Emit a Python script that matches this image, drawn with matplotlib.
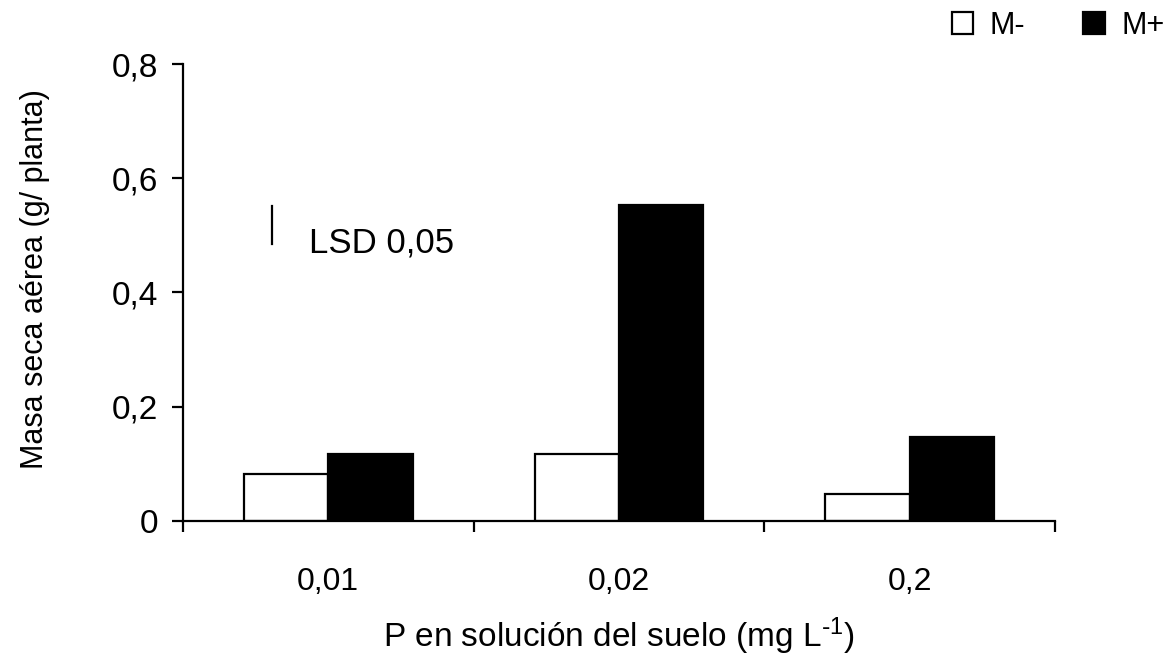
import matplotlib
matplotlib.use('Agg')
import matplotlib.pyplot as plt
import numpy as np

plt.rcParams['font.family'] = ['Liberation Sans', 'DejaVu Sans']
plt.rcParams['mathtext.default'] = 'regular'

#%% Data
categorias = ['0,01', '0,02', '0,2']
m_menos = [0.082, 0.117, 0.046]
m_mas = [0.117, 0.554, 0.147]
y_ticks = [0, 0.2, 0.4, 0.6, 0.8]
y_labels = ['0', '0,2', '0,4', '0,6', '0,8']
lsd = 0.067

#%% Figure
fig = plt.figure(figsize=[11.69, 6.66], dpi=100)
ax = fig.add_axes([0.1565, 0.2182, 0.746, 0.6853])

x = np.arange(len(categorias))
w = 0.29
ax.bar(x - w/2, m_menos, w, facecolor='white', edgecolor='black', linewidth=1.6, label='M-')
ax.bar(x + w/2, m_mas, w, facecolor='black', edgecolor='black', linewidth=1.6, label='M+')

# LSD bar
ax.plot([-0.194, -0.194], [0.552 - lsd, 0.552], color='black', lw=1.6)
ax.text(-0.068, 0.487, 'LSD 0,05', fontsize=25, va='center', ha='left')

ax.set_xlim(-0.5, 2.5)
ax.set_ylim(0, 0.8)
ax.set_yticks(y_ticks)
ax.set_yticklabels(y_labels)
ax.set_xticks(x)
ax.set_xticklabels(categorias)
ax.set_xticks([-0.5, 0.5, 1.5, 2.5], minor=True)
ax.tick_params(axis='x', which='major', length=0, pad=33, labelsize=23)
ax.tick_params(axis='x', which='minor', length=8, width=1.6, direction='out')
ax.tick_params(axis='y', which='major', length=8, width=1.6, direction='out', labelsize=24, pad=10)

for s in ['top', 'right']:
    ax.spines[s].set_visible(False)
for s in ['left', 'bottom']:
    ax.spines[s].set_linewidth(1.6)

ax.set_ylabel('Masa seca aérea (g/ planta)', fontsize=22)
ax.yaxis.set_label_coords(-0.152, 0.53)
ax.set_xlabel('P en solución del suelo (mg L$^{\\text{-}1}$)', fontsize=24, labelpad=14)

fig.legend(loc='upper right', bbox_to_anchor=(1.02, 1.025), ncol=2, frameon=False,
           fontsize=22, handlelength=0.7, handleheight=0.7, handletextpad=0.55,
           columnspacing=1.9)

plt.savefig('out.png', dpi=100)
